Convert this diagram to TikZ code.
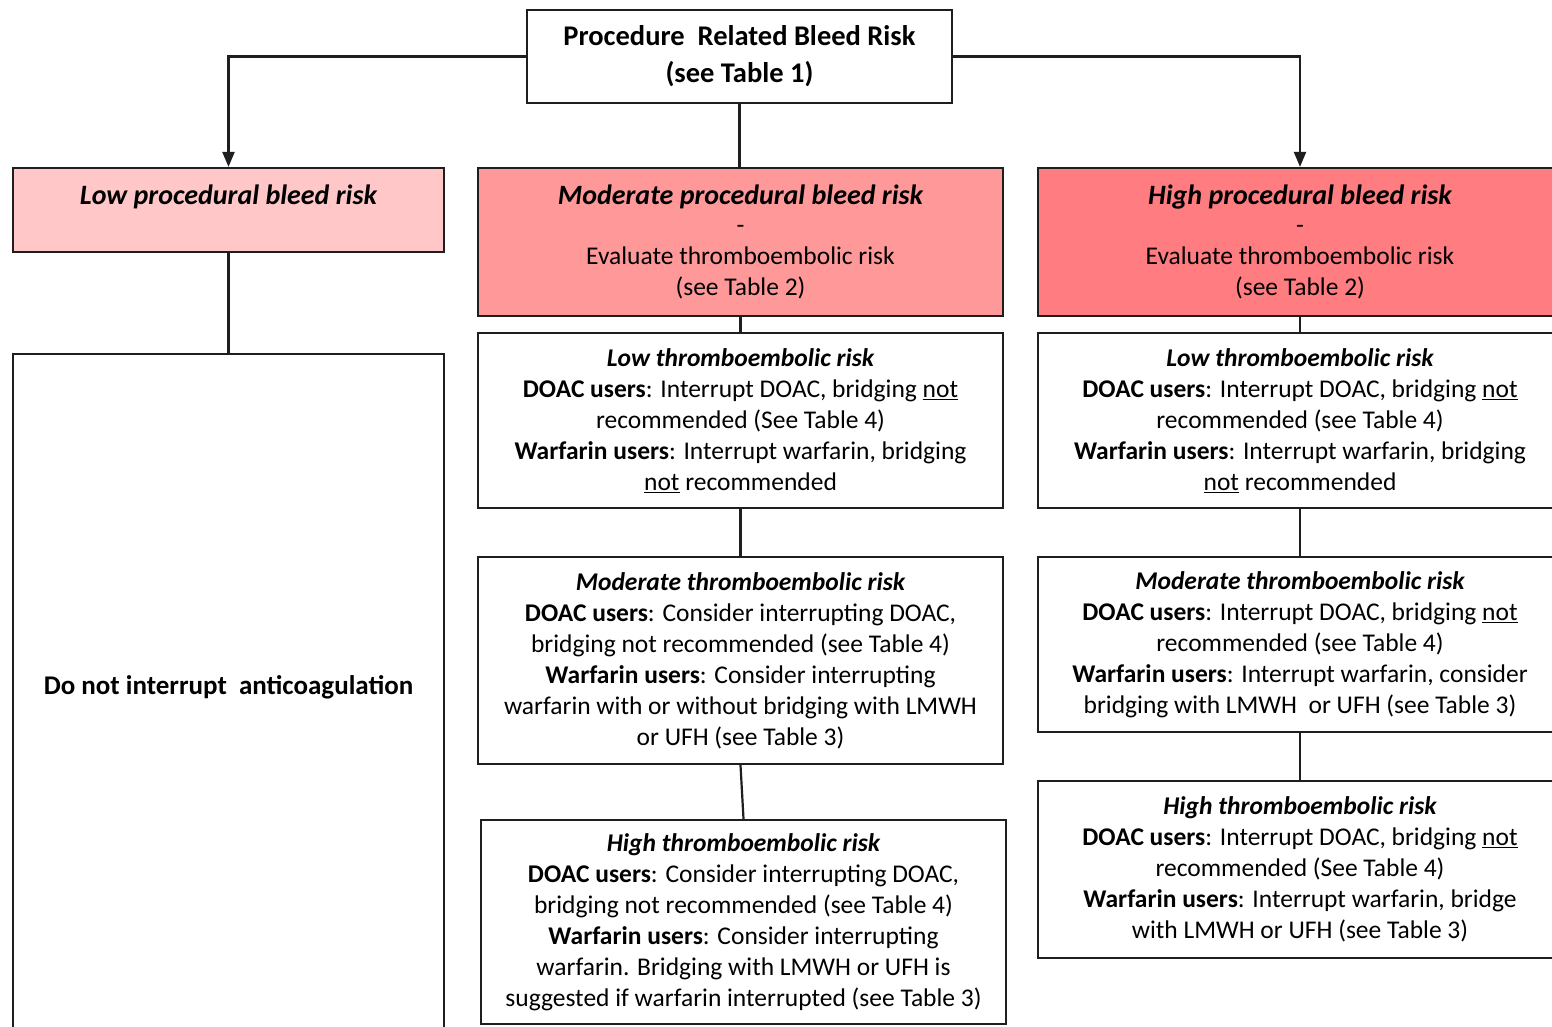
\documentclass[tikz,border=0pt]{standalone}
\usepackage{fontspec}
\setmainfont{Carlito}
\usetikzlibrary{arrows.meta}
\definecolor{lowfill}{RGB}{255,199,199}
\definecolor{modfill}{RGB}{255,153,153}
\definecolor{highfill}{RGB}{255,124,128}
\definecolor{edge}{RGB}{30,30,30}
\tikzset{
  box/.style={draw=edge, line width=2.2pt, rectangle, align=center, inner sep=0pt,
    font=\fontsize{25.5}{31}\selectfont},
  titlebox/.style={box, font=\fontsize{28.5}{37}\selectfont\bfseries},
  headbox/.style={box, font=\fontsize{25.5}{31}\selectfont},
  conn/.style={draw=edge, line width=2.2pt},
  arr/.style={conn, -{Triangle[length=15pt,width=12pt]}}
}
\newcommand{\hdtext}[1]{{\fontsize{28}{31}\selectfont\bfseries\itshape #1}}
\newcommand{\ital}[1]{{\bfseries\itshape #1}}
\begin{document}
\begin{tikzpicture}[x=1pt,y=-1pt]
\useasboundingbox (0,0) rectangle (1552,1026);
\clip (0,0) rectangle (1552,1026);
\fill[white] (0,0) rectangle (1552,1026);

% top
\node[titlebox, minimum width=425pt, minimum height=93pt] (top) at (739.5,56.5)
  {Procedure\ \ Related Bleed Risk\\(see Table 1)};

% header boxes
\node[headbox, fill=lowfill, minimum width=431pt, minimum height=84pt] (low) at (228.5,210)
  {\hdtext{Low procedural bleed risk}\\\mbox{}};
\node[headbox, fill=modfill, minimum width=525pt, minimum height=148pt] (mod) at (740.5,242)
  {\hdtext{Moderate procedural bleed risk}\\[-2pt]-\\Evaluate thromboembolic risk\\(see Table 2)};
\node[headbox, fill=highfill, minimum width=524pt, minimum height=148pt] (high) at (1300,242)
  {\hdtext{High procedural bleed risk}\\[-2pt]-\\Evaluate thromboembolic risk\\(see Table 2)};

% left
\node[box, fill=white, minimum width=431pt, minimum height=686pt, font=\fontsize{27}{31}\selectfont\bfseries] (dni) at (228.5,697)
  {\raisebox{3pt}[0pt][0pt]{Do not interrupt\ \ anticoagulation}};

% middle column
\node[box, fill=white, minimum width=525pt, minimum height=175pt] (lt1) at (740.5,420.5)
  {\ital{Low thromboembolic risk}\\
   \textbf{DOAC users}: Interrupt DOAC, bridging \underline{not}\\
   recommended (See Table 4)\\
   \textbf{Warfarin users}: Interrupt warfarin, bridging\\
   \underline{not} recommended};
\node[box, fill=white, minimum width=525pt, minimum height=207pt] (mt1) at (740.5,660.5)
  {\ital{Moderate thromboembolic risk}\\
   \textbf{DOAC users}: Consider interrupting DOAC,\\
   bridging not recommended (see Table 4)\\
   \textbf{Warfarin users}: Consider interrupting\\
   warfarin with or without bridging with LMWH\\
   or UFH (see Table 3)};
\node[box, fill=white, minimum width=525pt, minimum height=204pt] (ht1) at (743.5,922)
  {\ital{High thromboembolic risk}\\
   \textbf{DOAC users}: Consider interrupting DOAC,\\
   bridging not recommended (see Table 4)\\
   \textbf{Warfarin users}: Consider interrupting\\
   warfarin. Bridging with LMWH or UFH is\\
   suggested if warfarin interrupted (see Table 3)};

% right column
\node[box, fill=white, minimum width=524pt, minimum height=175pt] (lt2) at (1300,420.5)
  {\ital{Low thromboembolic risk}\\
   \textbf{DOAC users}: Interrupt DOAC, bridging \underline{not}\\
   recommended (see Table 4)\\
   \textbf{Warfarin users}: Interrupt warfarin, bridging\\
   \underline{not} recommended};
\node[box, fill=white, minimum width=524pt, minimum height=175pt] (mt2) at (1300,644.5)
  {\ital{Moderate thromboembolic risk}\\
   \textbf{DOAC users}: Interrupt DOAC, bridging \underline{not}\\
   recommended (see Table 4)\\
   \textbf{Warfarin users}: Interrupt warfarin, consider\\
   bridging with LMWH\ \ or UFH (see Table 3)};
\node[box, fill=white, minimum width=524pt, minimum height=177pt] (ht2) at (1300,869.5)
  {\ital{High thromboembolic risk}\\
   \textbf{DOAC users}: Interrupt DOAC, bridging \underline{not}\\
   recommended (See Table 4)\\
   \textbf{Warfarin users}: Interrupt warfarin, bridge\\
   with LMWH or UFH (see Table 3)};

% connectors
\draw[arr] (top.west) -| (low.north);
\draw[arr] (top.east) -| (high.north);
\draw[conn] (top.south) -- (top.south |- mod.north);
\draw[conn] (low.south) -- (dni.north);
\draw[conn] (mod.south) -- (lt1.north);
\draw[conn] (lt1.south) -- (mt1.north);
\draw[conn] (mt1.south) -- (ht1.north);
\draw[conn] (high.south) -- (lt2.north);
\draw[conn] (lt2.south) -- (mt2.north);
\draw[conn] (mt2.south) -- (ht2.north);
\end{tikzpicture}
\end{document}
